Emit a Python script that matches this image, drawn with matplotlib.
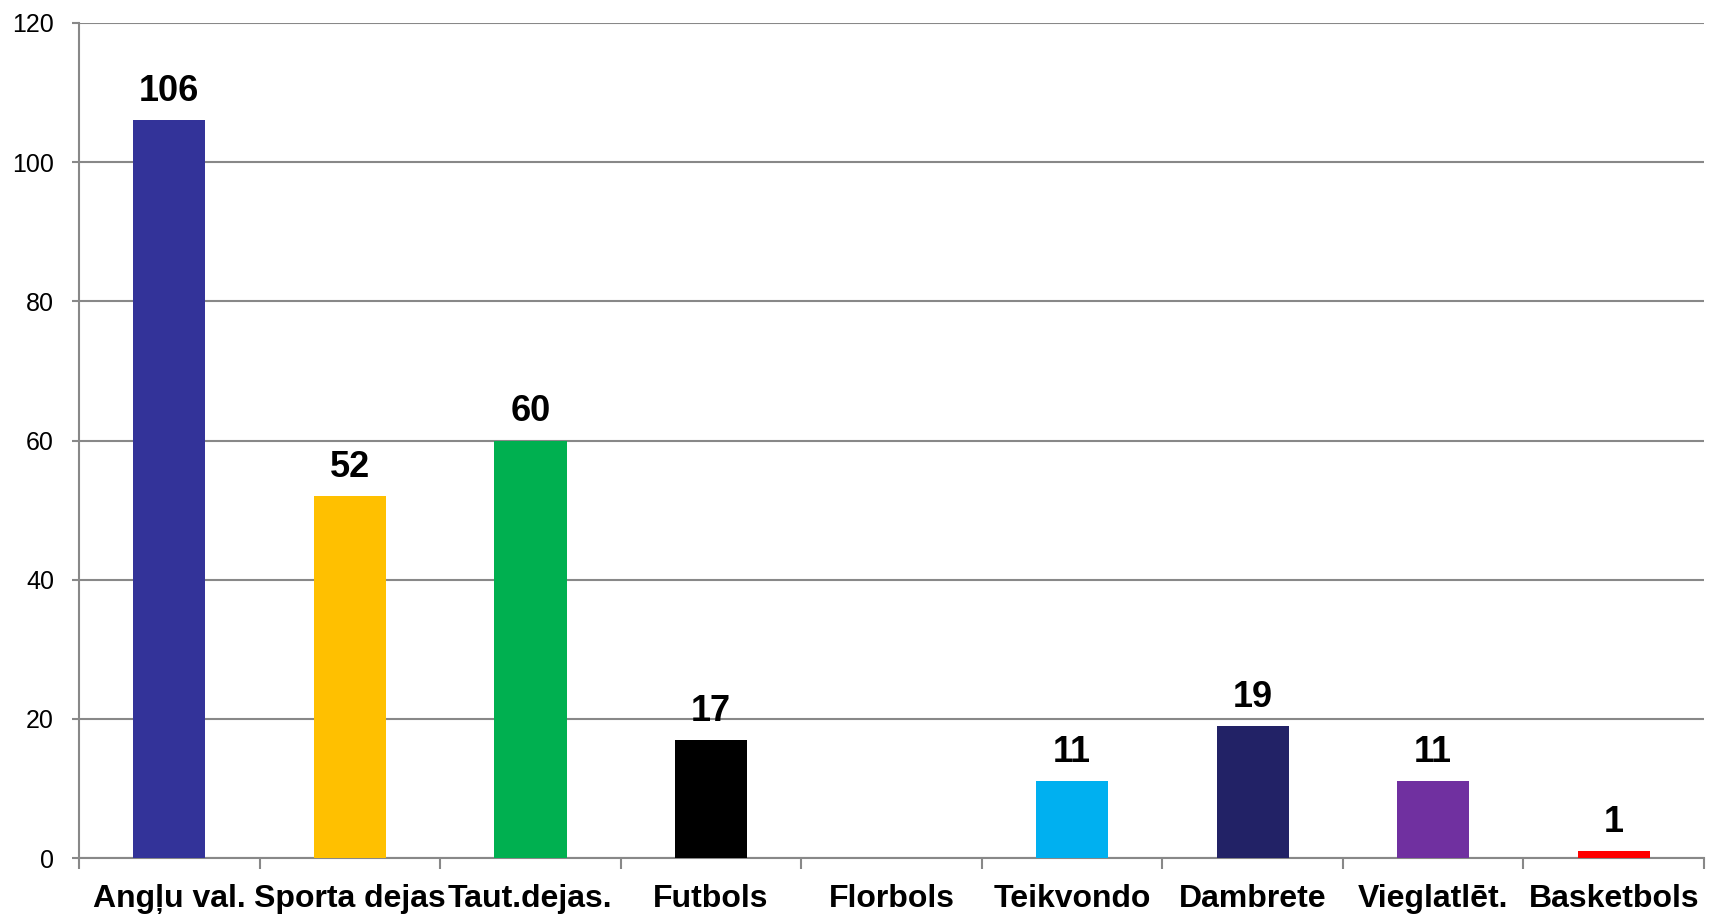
import numpy as np
import matplotlib
matplotlib.use("Agg")
import matplotlib.pyplot as plt

categories = ["Angļu val.", "Sporta dejas", "Taut.dejas.", "Futbols", "Florbols",
              "Teikvondo", "Dambrete", "Vieglatlēt.", "Basketbols"]
values = [106, 52, 60, 17, np.nan, 11, 19, 11, 1]
colors = ["#333399", "#FFC000", "#00B050", "#000000", "#FFFFFF",
          "#00B0F0", "#222266", "#7030A0", "#FF0000"]

plt.rcParams['font.family'] = ['Liberation Sans', 'DejaVu Sans']

fig = plt.figure(figsize=(17.17, 9.16), dpi=100)
ax = fig.add_axes([79 / 1717, 1 - 858 / 916, (1704 - 79) / 1717, (858 - 23) / 916])

x = np.arange(len(categories))
bars = ax.bar(x, values, width=0.40, color=colors, zorder=3)

for xi, v in zip(x, values):
    if np.isnan(v):
        continue
    ax.annotate(f"{v:.0f}", (xi, v), xytext=(0, 8), textcoords="offset points",
                ha="center", va="bottom", fontsize=26, fontweight="bold")

ax.set_xlim(-0.5, len(categories) - 0.5)
ax.set_ylim(0, 120)
ax.set_yticks(range(0, 121, 20))
ax.tick_params(axis="y", labelsize=18, length=5, width=1.5, color="#888888", pad=13)

ax.set_xticks(np.arange(-0.5, len(categories), 1))
ax.set_xticklabels([])
ax.set_xticks(x, minor=True)
ax.set_xticklabels(categories, minor=True, fontsize=23, fontweight="bold")
ax.tick_params(axis="x", which="major", length=8, width=1.5, color="#888888")
ax.tick_params(axis="x", which="minor", length=0, pad=19)

ax.grid(axis="y", color="#888888", linewidth=1.5, zorder=0)
for s in ["top", "right"]:
    ax.spines[s].set_visible(False)
for s in ["left", "bottom"]:
    ax.spines[s].set_color("#888888")
    ax.spines[s].set_linewidth(1.5)

fig.savefig("out.png", dpi=100)
